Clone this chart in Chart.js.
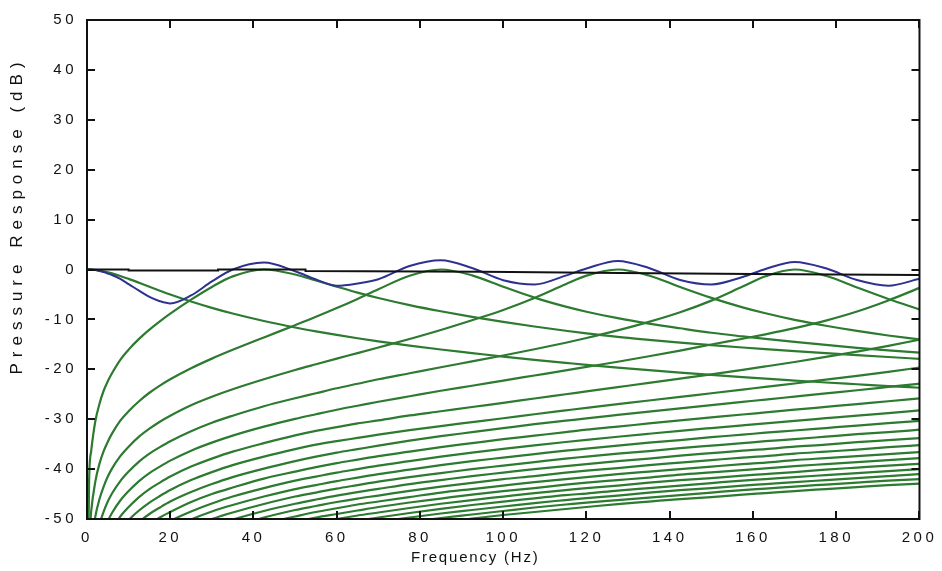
<!DOCTYPE html>
<html>
<head>
<meta charset="utf-8">
<script src="https://cdn.jsdelivr.net/npm/chart.js@4.4.1/dist/chart.umd.min.js"></script>
<style>
  html, body { margin: 0; padding: 0; background: #ffffff; }
  canvas { display: block; }
</style>
</head>
<body>
<canvas id="chart" width="942" height="571"></canvas>
<script>
// ---------------- data ----------------
const freqHz = [0, 0.5, 1, 2, 3, 4, 5, 6, 8, 10, 12.5, 15, 17.5, 20, 25, 30, 35, 42.5, 50, 55, 60, 65, 70, 77.5, 85, 92.5, 100, 107.5, 115, 120, 127.5, 135, 142.5, 150, 157.5, 163, 170, 177.5, 185, 192.5, 200];

const xTickValues = [0, 20, 40, 60, 80, 100, 120, 140, 160, 180, 200];
const yTickValues = [-50, -40, -30, -20, -10, 0, 10, 20, 30, 40, 50];

const xTitle = 'Frequency (Hz)';
const yTitle = 'Pressure Response (dB)';

// modal responses (green); rising curves listed from their first point near the bottom edge
const mode0Db = [0, 0, -0.02, -0.09, -0.21, -0.36, -0.55, -0.77, -1.29, -1.88, -2.66, -3.46, -4.24, -5.00, -6.41, -7.68, -8.82, -10.32, -11.62, -12.39, -13.11, -13.77, -14.39, -15.25, -16.03, -16.74, -17.45, -18.1, -18.7, -19.1, -19.65, -20.17, -20.66, -21.13, -21.57, -21.88, -22.25, -22.64, -23.0, -23.36, -23.7];
const mode1Db = [-80, -42.5, -36.4, -30.4, -26.9, -24.3, -22.4, -20.8, -18.1, -16.06, -13.90, -12.05, -10.39, -8.85, -6.04, -3.49, -1.38, 0, -1.00, -2.21, -3.44, -4.63, -5.71, -7.13, -8.37, -9.49, -10.5, -11.43, -12.28, -12.81, -13.52, -14.1, -14.64, -15.15, -15.63, -15.96, -16.36, -16.77, -17.16, -17.54, -17.9];
const mode2Db = [-54.5, -48.5, -42.5, -38.9, -36.4, -34.5, -32.9, -30.3, -28.4, -26.4, -24.7, -23.27, -22.0, -19.79, -17.86, -16.10, -13.61, -11.16, -9.49, -7.73, -5.89, -3.96, -1.25, 0, -1.17, -3.45, -5.64, -7.45, -8.46, -9.76, -10.84, -11.78, -12.67, -13.41, -13.92, -14.51, -15.1, -15.69, -16.2, -16.67];
const mode3Db = [-55.5, -49.5, -46.0, -43.5, -41.5, -39.9, -37.4, -35.5, -33.5, -31.9, -30.5, -29.3, -27.2, -25.5, -24.0, -22.0, -20.14, -18.99, -17.86, -16.75, -15.63, -13.92, -12.11, -10.16, -8.1, -5.7, -2.95, -1.22, 0, -1.2, -3.51, -5.69, -7.58, -8.77, -10.08, -11.27, -12.31, -13.22, -14.02];
const mode4Db = [-51.0, -48.5, -46.5, -44.9, -42.4, -40.5, -38.5, -36.9, -35.6, -34.4, -32.4, -30.7, -29.3, -27.4, -25.8, -24.8, -23.8, -22.9, -22.0, -20.8, -19.59, -18.42, -17.23, -15.98, -14.67, -13.72, -12.2, -10.5, -8.57, -6.24, -3.42, -1.36, 0, -1.25, -3.6, -5.9, -8.0];
const mode5Db = [-52.4, -50.4, -48.8, -46.3, -44.4, -42.4, -40.8, -39.5, -38.3, -36.3, -34.7, -33.3, -31.5, -29.93, -29.0, -28.1, -27.3, -26.5, -25.4, -24.3, -23.3, -22.26, -21.24, -20.22, -19.53, -18.48, -17.39, -16.25, -15.03, -13.87, -12.99, -11.76, -10.24, -8.42, -6.21, -3.68];
const mode6Db = [-52.0, -49.5, -47.6, -45.6, -44.0, -42.7, -41.5, -39.5, -37.9, -36.5, -34.8, -33.25, -32.35, -31.6, -30.85, -30.25, -29.25, -28.41, -27.55, -26.73, -25.85, -25.0, -24.43, -23.58, -22.73, -21.87, -21.0, -20.1, -19.42, -18.53, -17.52, -16.46, -15.3, -14.06];
const mode7Db = [-52.2, -50.2, -48.3, -46.7, -45.4, -44.2, -42.2, -40.6, -39.2, -37.5, -36.0, -35.1, -34.4, -33.75, -33.1, -32.2, -31.37, -30.59, -29.81, -29.01, -28.24, -27.73, -26.99, -26.25, -25.52, -24.8, -24.07, -23.52, -22.84, -22.07, -21.3, -20.5, -19.66];
const mode8Db = [-52.6, -50.6, -49.0, -47.7, -46.5, -44.6, -43.0, -41.6, -39.9, -38.4, -37.5, -36.7, -36.0, -35.3, -34.3, -33.4, -32.6, -31.8, -31.0, -30.3, -29.83, -29.15, -28.48, -27.82, -27.17, -26.53, -26.07, -25.47, -24.83, -24.2, -23.54, -22.88];
const mode9Db = [-51.1, -49.7, -48.6, -46.6, -45.0, -43.7, -41.9, -40.5, -39.6, -38.8, -38.1, -37.4, -36.5, -35.6, -34.8, -34.0, -33.3, -32.6, -32.1, -31.5, -30.85, -30.24, -29.65, -29.06, -28.64, -28.1, -27.53, -26.96, -26.40, -25.83];
const mode10Db = [-51.6, -50.4, -48.5, -46.9, -45.5, -43.8, -42.3, -41.5, -40.7, -40.0, -39.3, -38.4, -37.5, -36.7, -35.95, -35.24, -34.57, -34.14, -33.52, -32.92, -32.33, -31.77, -31.22, -30.82, -30.32, -29.8, -29.28, -28.77, -28.25];
const mode11Db = [-52.1, -50.1, -48.5, -47.2, -45.5, -44.0, -43.2, -42.4, -41.7, -41.0, -40.1, -39.2, -38.4, -37.7, -37.0, -36.3, -35.9, -35.3, -34.7, -34.2, -33.6, -33.1, -32.7, -32.26, -31.77, -31.28, -30.8, -30.33];
const mode12Db = [-51.6, -50.0, -48.7, -47.0, -45.5, -44.7, -43.9, -43.2, -42.5, -41.6, -40.8, -40.0, -39.3, -38.6, -37.9, -37.5, -36.9, -36.4, -35.8, -35.3, -34.8, -34.4, -34.0, -33.5, -33.0, -32.6, -32.1];
const mode13Db = [-51.4, -50.1, -48.4, -46.95, -46.1, -45.3, -44.6, -43.96, -43.0, -42.2, -41.4, -40.7, -40.0, -39.4, -39.0, -38.4, -37.9, -37.3, -36.8, -36.3, -36.0, -35.5, -35.1, -34.6, -34.2, -33.8];
const mode14Db = [-51.4, -49.7, -48.2, -47.4, -46.6, -45.9, -45.3, -44.35, -43.5, -42.75, -42.0, -41.4, -40.7, -40.3, -39.8, -39.2, -38.7, -38.2, -37.7, -37.4, -36.9, -36.5, -36.1, -35.6, -35.2];
const mode15Db = [-52.6, -50.9, -49.5, -48.6, -47.85, -47.1, -46.5, -45.6, -44.7, -44.0, -43.3, -42.6, -42.0, -41.6, -41.0, -40.5, -40.0, -39.5, -39.0, -38.7, -38.2, -37.8, -37.4, -37.0, -36.6];
const mode16Db = [-52.0, -50.6, -49.7, -49.0, -48.3, -47.6, -46.7, -45.9, -45.1, -44.4, -43.8, -43.1, -42.7, -42.2, -41.7, -41.1, -40.65, -40.2, -39.85, -39.4, -39.0, -38.6, -38.2, -37.8];
const mode17Db = [-51.6, -50.8, -50.0, -49.3, -48.7, -47.8, -46.95, -46.2, -45.5, -44.8, -44.2, -43.8, -43.3, -42.7, -42.2, -41.8, -41.3, -41.0, -40.6, -40.1, -39.7, -39.3, -38.95];
const mode18Db = [-51.8, -51.0, -50.3, -49.7, -48.8, -47.96, -47.2, -46.5, -45.85, -45.2, -44.9, -44.3, -43.8, -43.3, -42.8, -42.3, -42.0, -41.6, -41.2, -40.8, -40.4, -40.0];
const mode19Db = [-51.3, -50.6, -49.7, -48.9, -48.2, -47.5, -46.8, -46.2, -45.8, -45.3, -44.7, -44.2, -43.8, -43.3, -43.0, -42.6, -42.2, -41.8, -41.4, -41.0];
const mode20Db = [-51.5, -50.6, -49.8, -49.1, -48.4, -47.7, -47.1, -46.7, -46.2, -45.7, -45.2, -44.7, -44.2, -43.9, -43.5, -43.1, -42.7, -42.3, -42.0];
const mode21Db = [-51.5, -50.7, -49.9, -49.2, -48.6, -48.0, -47.6, -47.0, -46.5, -46.0, -45.6, -45.1, -44.8, -44.4, -44.0, -43.6, -43.2, -42.9];

// total response (blue)
const totalDb = [0, 0, -0.03, -0.12, -0.3, -0.5, -0.82, -1.1, -1.9, -2.93, -4.25, -5.5, -6.35, -6.79, -5.2, -2.39, 0.0, 1.4, -0.36, -2.0, -3.25, -2.8, -1.95, 0.7, 1.83, 0.3, -2.14, -3.0, -1.22, 0.2, 1.72, 0.31, -2.1, -3.0, -1.5, 0.1, 1.52, 0.24, -2.12, -3.25, -1.86];

// reference line (black)
const refFreqHz = [0, 10, 10, 31.5, 31.5, 52.5, 52.5, 95, 128, 160, 200];
const refDb = [0, 0, -0.2, -0.2, 0, 0, -0.3, -0.45, -0.7, -0.9, -1.1];

// ---------------- build chart ----------------
const pad = v => Array(freqHz.length - v.length).fill(null).concat(v);
const toPoints = (xs, ys) => xs.map((x, i) => ({ x: x, y: ys[i] }));

const modeSeries = [mode0Db, mode1Db, mode2Db, mode3Db, mode4Db, mode5Db, mode6Db, mode7Db, mode8Db, mode9Db, mode10Db,
  mode11Db, mode12Db, mode13Db, mode14Db, mode15Db, mode16Db, mode17Db, mode18Db, mode19Db, mode20Db, mode21Db].map(pad);

const GREEN = '#2d7a31';
const BLUE = '#2e3190';
const INK = '#111111';

const datasets = [
  { label: 'reference', data: toPoints(refFreqHz, refDb), borderColor: INK, borderWidth: 2, tension: 0 },
  { label: 'total', data: toPoints(freqHz, totalDb), borderColor: BLUE, borderWidth: 2, cubicInterpolationMode: 'monotone' }
].concat(modeSeries.map((s, i) => ({
  label: 'mode ' + i, data: toPoints(freqHz, s), borderColor: GREEN, borderWidth: 2.2, cubicInterpolationMode: 'monotone'
})));

Chart.defaults.font.family = "'Liberation Sans', Arial, Helvetica, sans-serif";
Chart.defaults.font.size = 15;
Chart.defaults.color = INK;

const framePlugin = {
  id: 'frame',
  beforeDraw(chart) {
    const ctx = chart.ctx;
    ctx.save();
    ctx.fillStyle = '#ffffff';
    ctx.fillRect(0, 0, chart.width, chart.height);
    ctx.restore();
    ctx.letterSpacing = '3.5px';
  },
  afterDraw(chart) {
    const { ctx, chartArea: a, scales: { x, y } } = chart;
    ctx.save();
    ctx.strokeStyle = INK;
    ctx.lineWidth = 2;
    ctx.strokeRect(a.left, a.top, a.right - a.left, a.bottom - a.top);
    ctx.beginPath();
    xTickValues.forEach(v => {
      const px = Math.round(x.getPixelForValue(v));
      ctx.moveTo(px, a.bottom); ctx.lineTo(px, a.bottom - 8);
      ctx.moveTo(px, a.top); ctx.lineTo(px, a.top + 8);
    });
    yTickValues.forEach(v => {
      const py = Math.round(y.getPixelForValue(v));
      ctx.moveTo(a.left, py); ctx.lineTo(a.left + 8, py);
      ctx.moveTo(a.right, py); ctx.lineTo(a.right - 8, py);
    });
    ctx.stroke();

    ctx.fillStyle = INK;
    ctx.textAlign = 'center';
    ctx.textBaseline = 'middle';
    ctx.font = "15px 'Liberation Sans', Arial, sans-serif";
    ctx.letterSpacing = '1.8px';
    ctx.fillText(xTitle, (a.left + a.right) / 2 - 28, 558);
    ctx.font = "17px 'Liberation Sans', Arial, sans-serif";
    ctx.letterSpacing = '6px';
    ctx.translate(17, (a.top + a.bottom) / 2 - 54);
    ctx.rotate(-Math.PI / 2);
    ctx.fillText(yTitle, 0, 0);
    ctx.restore();
  }
};

new Chart(document.getElementById('chart').getContext('2d'), {
  type: 'line',
  data: { datasets: datasets },
  options: {
    responsive: false,
    animation: false,
    devicePixelRatio: 1,
    layout: { padding: { left: 0, right: 21, top: 20, bottom: 0 } },
    plugins: { legend: { display: false }, tooltip: { enabled: false } },
    elements: { point: { radius: 0 } },
    scales: {
      x: {
        type: 'linear', min: 0, max: 200,
        grid: { display: false, drawTicks: false },
        border: { display: false },
        afterBuildTicks: s => { s.ticks = xTickValues.map(v => ({ value: v })); },
        afterFit: s => { s.height = 52; },
        ticks: { padding: 10, maxRotation: 0, autoSkip: false, color: INK, font: { size: 15 } }
      },
      y: {
        type: 'linear', min: -50, max: 50,
        grid: { display: false, drawTicks: false },
        border: { display: false },
        afterBuildTicks: s => { s.ticks = yTickValues.map(v => ({ value: v })); },
        afterFit: s => { s.width = 87; },
        ticks: { padding: 10, autoSkip: false, color: INK, font: { size: 15 } }
      }
    }
  },
  plugins: [framePlugin]
});
</script>
</body>
</html>
